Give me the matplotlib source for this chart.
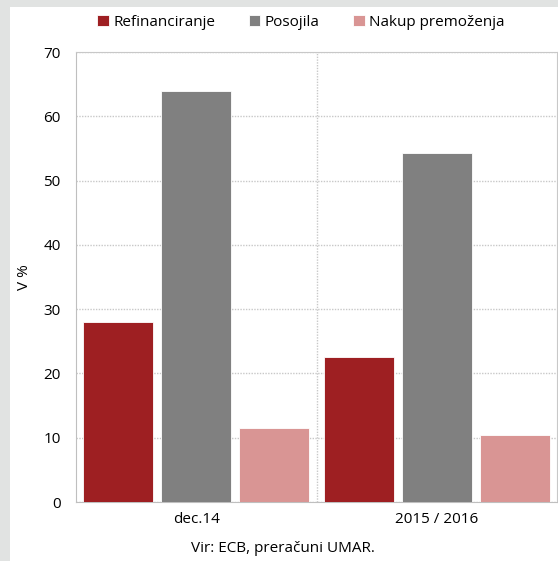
import numpy as np
import matplotlib.pyplot as plt
from matplotlib.patches import Rectangle

plt.rcParams.update({"font.family": ["Open Sans", "DejaVu Sans"], "font.size": 11})

# ── data ─────────────────────────────────────────────────────────────────────
categories = ["dec.14", "2015 / 2016"]
series = ["Refinanciranje", "Posojila", "Nakup premoženja"]
refinanciranje = [28.0, 22.5]
posojila = [64.0, 54.3]
nakup = [11.5, 10.4]
source = "Vir: ECB, preračuni UMAR."

COLS = ["#9E1F22", "#808080", "#D99594"]
GRID = "#C8C8C8"

fig = plt.figure(figsize=(5.58, 5.61), dpi=100, facecolor="#E1E3E2")
# white panel (grey band left and top)
fig.patches.append(Rectangle((10 / 558, 0), 1, 1 - 7 / 561, transform=fig.transFigure,
                             facecolor="white", edgecolor="none", zorder=-10))

ax = fig.add_axes([76 / 558, 1 - 502 / 561, 481 / 558, 450 / 561])
ax.set_facecolor("white")

x = np.arange(len(categories))
off, w = 0.324, 0.29
for k, (vals, lab) in enumerate(zip([refinanciranje, posojila, nakup], series)):
    ax.bar(x + (k - 1) * off, vals, w, color=COLS[k], label=lab, zorder=3,
           edgecolor="white", linewidth=0.6)

ax.set_xlim(-0.5, 1.5)
ax.set_ylim(0, 70)
ax.set_yticks(range(0, 71, 10))
ax.set_xticks(x)
ax.set_xticklabels(categories)
ax.tick_params(axis="y", length=0, pad=11)
ax.tick_params(axis="x", length=0, pad=7)
ax.set_ylabel("V %", labelpad=8)

ax.grid(axis="y", color=GRID, linestyle=(0, (1, 1)), linewidth=1, zorder=0)
ax.axvline(0.5, color=GRID, linestyle=(0, (1, 1)), linewidth=1, zorder=0)
for s in ["top", "right"]:
    ax.spines[s].set_color(GRID)
    ax.spines[s].set_linestyle((0, (1, 1)))
for s in ["left", "bottom"]:
    ax.spines[s].set_color("#BFBFBF")

ax.legend(loc="lower center", bbox_to_anchor=(0.468, 1.035), ncol=3, frameon=False,
          handlelength=0.75, handleheight=0.75, handletextpad=0.3, columnspacing=2.2,
          borderaxespad=0)

fig.text(283 / 558, 1 - 549 / 561, source, ha="center", va="center")

fig.savefig("out.png", dpi=100, facecolor=fig.get_facecolor())
